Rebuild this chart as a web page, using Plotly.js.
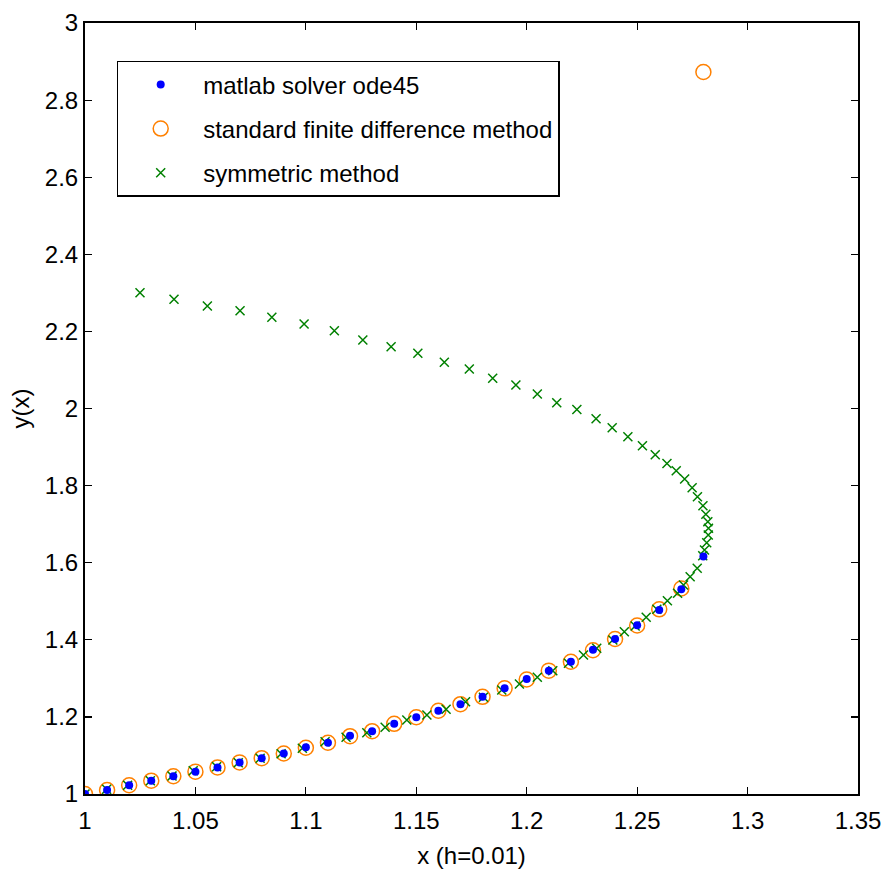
<!DOCTYPE html>
<html>
<head>
<meta charset="utf-8">
<script src="https://cdn.plot.ly/plotly-3.0.1.min.js"></script>
<style>html,body{margin:0;padding:0;background:#fff;}#chart{width:885px;height:871px;}</style>
</head>
<body>
<div id="chart"></div>
<script>
// ode45 reference solution
const odeX = [1.00,1.01,1.02,1.03,1.04,1.05,1.06,1.07,1.08,1.09,1.10,1.11,1.12,1.13,1.14,1.15,1.16,1.17,1.18,1.19,1.20,1.21,1.22,1.23,1.24,1.25,1.26,1.27,1.28];
const odeY = [1.000,1.0104,1.0226,1.0345,1.046,1.058,1.069,1.082,1.093,1.105,1.121,1.133,1.151,1.163,1.182,1.199,1.216,1.233,1.252,1.274,1.298,1.320,1.343,1.374,1.402,1.438,1.477,1.531,1.616];

// standard finite difference method
const fdX = [1.00,1.01,1.02,1.03,1.04,1.05,1.06,1.07,1.08,1.09,1.10,1.11,1.12,1.13,1.14,1.15,1.16,1.17,1.18,1.19,1.20,1.21,1.22,1.23,1.24,1.25,1.26,1.27,1.28];
const fdY = [1.000,1.0104,1.0226,1.0345,1.046,1.058,1.069,1.082,1.093,1.105,1.120,1.133,1.150,1.163,1.182,1.199,1.216,1.233,1.252,1.274,1.297,1.320,1.343,1.373,1.402,1.437,1.479,1.533,2.873];

// symmetric method
const symX = [1.0000,1.0098,1.0193,1.0296,1.0394,1.0490,1.0596,1.0694,1.0793,1.0888,1.0984,1.1087,1.1182,1.1276,1.1359,1.1457,1.1548,1.1635,1.1723,1.1804,1.1887,1.1967,1.2048,1.2118,1.2189,1.2257,1.2317,1.2390,1.2442,1.2491,1.2541,1.2589,1.2637,1.2683,1.2710,1.2740,1.2772,1.2797,1.2805,1.2815,1.2822,1.2823,1.2820,1.2811,1.2798,1.2773,1.2749,1.2715,1.2677,1.2635,1.2582,1.2524,1.2458,1.2387,1.2314,1.2227,1.2136,1.2048,1.1951,1.1846,1.1740,1.1627,1.1507,1.1386,1.1258,1.1129,1.0992,1.0846,1.0702,1.0554,1.0403,1.0249];
const symY = [1.000,1.0122,1.0226,1.0345,1.0467,1.0604,1.0708,1.0812,1.0926,1.1045,1.1185,1.1357,1.1471,1.1590,1.1730,1.1920,1.2049,1.2197,1.2394,1.2508,1.2698,1.2853,1.3027,1.3198,1.3390,1.3606,1.3780,1.3995,1.4210,1.4358,1.4584,1.4791,1.5014,1.5206,1.5421,1.5637,1.5855,1.6180,1.6329,1.6519,1.6719,1.6892,1.7063,1.7256,1.7479,1.7712,1.7946,1.8171,1.8387,1.8573,1.8802,1.9035,1.9268,1.9502,1.9735,1.9974,2.0150,2.0376,2.0610,2.0783,2.1025,2.1198,2.1432,2.1603,2.1777,2.2018,2.2192,2.2366,2.2537,2.2659,2.2833,2.3004];

const xTicks = [1,1.05,1.1,1.15,1.2,1.25,1.3,1.35];
const xTickText = ['1','1.05','1.1','1.15','1.2','1.25','1.3','1.35'];
const yTicks = [1,1.2,1.4,1.6,1.8,2,2.2,2.4,2.6,2.8,3];
const yTickText = ['1','1.2','1.4','1.6','1.8','2','2.2','2.4','2.6','2.8','3'];

const FONT = 'Liberation Sans, Arial, sans-serif';

const traces = [
  {x: fdX, y: fdY, type: 'scatter', mode: 'markers', name: 'standard finite difference method', legendgroup: 'b', legendrank: 2,
   marker: {symbol: 'circle-open', size: 15, color: '#ff8000', line: {width: 1.5, color: '#ff8000'}}},
  {x: symX, y: symY, type: 'scatter', mode: 'markers', name: 'symmetric method', legendgroup: 'c', legendrank: 3,
   marker: {symbol: 'x-thin-open', size: 9, color: '#008000', line: {width: 1.5, color: '#008000'}}},
  {x: odeX, y: odeY, type: 'scatter', mode: 'markers', name: 'matlab solver ode45', legendgroup: 'a', legendrank: 1,
   marker: {symbol: 'circle', size: 8, color: '#0000ff'}}
];

const axisCommon = {
  showgrid: false, zeroline: false, showline: true, linecolor: '#000', linewidth: 2,
  mirror: 'ticks', ticks: 'inside', ticklen: 7, tickwidth: 1.2, tickcolor: '#000',
  tickfont: {family: FONT, size: 24, color: '#000'}
};

const layout = {
  width: 885, height: 871,
  margin: {l: 85, r: 27, t: 23, b: 77},
  paper_bgcolor: '#fff', plot_bgcolor: '#fff',
  showlegend: true,
  xaxis: Object.assign({}, axisCommon, {
    range: [1, 1.35], tickmode: 'array', tickvals: xTicks, ticktext: xTickText,
    ticklabelstandoff: 4,
    title: {text: 'x (h=0.01)', font: {family: FONT, size: 24, color: '#000'}, standoff: 14}
  }),
  yaxis: Object.assign({}, axisCommon, {
    range: [1, 3], tickmode: 'array', tickvals: yTicks, ticktext: yTickText,
    title: {text: 'y(x)', font: {family: FONT, size: 24, color: '#000'}, standoff: 8}
  }),
  legend: {
    x: 0.041, y: 0.951, xanchor: 'left', yanchor: 'top',
    bgcolor: '#fff', bordercolor: '#000', borderwidth: 1.5,
    traceorder: 'grouped', tracegroupgap: 10, itemwidth: 75,
    font: {family: FONT, size: 24, color: '#000'}
  }
};

Plotly.newPlot('chart', traces, layout, {displayModeBar: false, staticPlot: true});
</script>
</body>
</html>
